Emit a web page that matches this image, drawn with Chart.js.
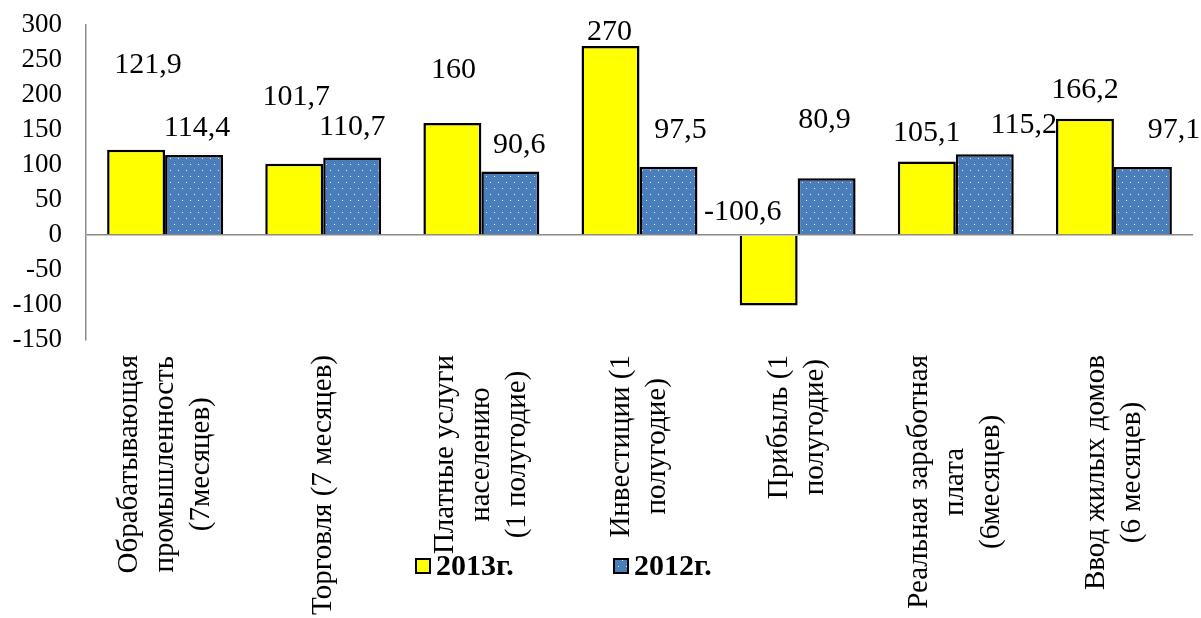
<!DOCTYPE html>
<html>
<head>
<meta charset="utf-8">
<script src="https://cdn.jsdelivr.net/npm/chart.js@4"></script>
<style>
  html, body { margin: 0; padding: 0; background: #ffffff; }
  #wrap { width: 1201px; height: 618px; }
</style>
</head>
<body>
<div id="wrap"><canvas id="c" width="1201" height="618"></canvas></div>
<script>
// ---- data ----
const categories = [
  ["Обрабатывающая", "промышленность", "(7месяцев)"],
  ["Торговля (7 месяцев)"],
  ["Платные услуги", "населению", "(1 полугодие)"],
  ["Инвестиции (1", "полугодие)"],
  ["Прибыль (1", "полугодие)"],
  ["Реальная заработная", "плата", "(6месяцев)"],
  ["Ввод жилых домов", "(6 месяцев)"]
];
const seriesNames = ["2013г.", "2012г."];
const values2013 = [121.9, 101.7, 160, 270, -100.6, 105.1, 166.2];
const values2012 = [114.4, 110.7, 90.6, 97.5, 80.9, 115.2, 97.1];
const yMin = -150;
const yMax = 300;
const yStep = 50;

// ---- styling / placement (not data) ----
const SERIF = "'Times New Roman', 'Liberation Serif', serif";
const AXIS_GREY = '#8a8a8a';
const YELLOW = '#ffff00';
const BLUE = '#4a7ebb';

// manual label placement as in the reference (value-axis anchor, px shift)
const labelPlacement = [
  { anchor: [243, 197, 236, 290, 33, 146, 207], shift: [12, 2, 1, -1, -26, 0, 0] },
  { anchor: [153, 154, 129, 150, 164, 157, 150], shift: [3, 0, 9, 12, -2, 39, 31] }
];

function makeDotPattern() {
  const t = document.createElement('canvas');
  t.width = 8; t.height = 12;
  const g = t.getContext('2d');
  g.fillStyle = BLUE;
  g.fillRect(0, 0, 8, 12);
  g.fillStyle = 'rgba(255,255,255,0.85)';
  g.fillRect(2, 2, 1, 1);
  g.fillRect(6, 8, 1, 1);
  const ctx = document.getElementById('c').getContext('2d');
  return ctx.createPattern(t, 'repeat');
}
const bluePattern = makeDotPattern();

function fmt(v) { return String(v).replace('.', ','); }

const valueLabelsPlugin = {
  id: 'valueLabels',
  afterDatasetsDraw(chart) {
    const ctx = chart.ctx;
    const y = chart.scales.y;
    ctx.save();
    ctx.font = '30px ' + SERIF;
    ctx.fillStyle = '#000';
    ctx.textAlign = 'center';
    ctx.textBaseline = 'middle';
    chart.data.datasets.forEach((ds, di) => {
      const meta = chart.getDatasetMeta(di);
      meta.data.forEach((bar, i) => {
        const p = labelPlacement[di];
        ctx.fillText(fmt(ds.data[i]), bar.x + p.shift[i], y.getPixelForValue(p.anchor[i]));
      });
    });
    ctx.restore();
  }
};

const categoryLabelsPlugin = {
  id: 'categoryLabels',
  afterDraw(chart) {
    const ctx = chart.ctx;
    const xs = chart.scales.x;
    const lh = 36;
    const top = 355;
    ctx.save();
    ctx.font = '29px ' + SERIF;
    ctx.fillStyle = '#000';
    ctx.textAlign = 'center';
    ctx.textBaseline = 'middle';
    chart.data.labels.forEach((lines, i) => {
      const cx = xs.getPixelForTick(i);
      const maxW = Math.max(...lines.map(l => ctx.measureText(l).width));
      const cy = top + maxW / 2;
      lines.forEach((line, j) => {
        const lx = cx + (j - (lines.length - 1) / 2) * lh;
        ctx.save();
        ctx.translate(lx, cy);
        ctx.rotate(-Math.PI / 2);
        ctx.fillText(line, 0, 0);
        ctx.restore();
      });
    });
    ctx.restore();
  }
};

const legendPlugin = {
  id: 'customLegend',
  afterDraw(chart) {
    const ctx = chart.ctx;
    const items = [{ x: 415 }, { x: 613 }];
    ctx.save();
    ctx.font = 'bold 30px ' + SERIF;
    ctx.textAlign = 'left';
    ctx.textBaseline = 'middle';
    chart.data.datasets.forEach((ds, di) => {
      const bx = items[di].x, by = 558, s = 16;
      ctx.fillStyle = ds.backgroundColor;
      ctx.fillRect(bx, by, s, s);
      ctx.lineWidth = 2;
      ctx.strokeStyle = '#000';
      ctx.strokeRect(bx + 1, by + 1, s - 2, s - 2);
      ctx.fillStyle = '#000';
      ctx.fillText(ds.label, bx + s + 5, by + s / 2 + 1);
    });
    ctx.restore();
  }
};

new Chart(document.getElementById('c'), {
  type: 'bar',
  data: {
    labels: categories,
    datasets: [
      { label: seriesNames[0], data: values2013, backgroundColor: YELLOW, borderColor: '#000', borderWidth: 2.5 },
      { label: seriesNames[1], data: values2012, backgroundColor: bluePattern, borderColor: '#000', borderWidth: 2.5 }
    ]
  },
  options: {
    responsive: false,
    animation: false,
    devicePixelRatio: 1,
    layout: { padding: { top: 25, right: 8, bottom: 278, left: 0 } },
    datasets: { bar: { categoryPercentage: 0.733, barPercentage: 1.0 } },
    plugins: { legend: { display: false }, tooltip: { enabled: false } },
    scales: {
      x: {
        ticks: { display: false },
        grid: { display: false },
        border: { display: false },
        afterFit(s) { s.height = 0; }
      },
      y: {
        min: yMin,
        max: yMax,
        ticks: {
          stepSize: yStep,
          autoSkip: false,
          padding: 24,
          color: '#000',
          font: { family: SERIF, size: 27 }
        },
        grid: {
          drawTicks: false,
          color: (c) => (c.tick && c.tick.value === 0 ? AXIS_GREY : 'rgba(0,0,0,0)'),
          lineWidth: 1.5
        },
        border: { display: true, color: AXIS_GREY, width: 1.5 },
        afterFit(s) { s.width = 86; s.paddingTop = 0; s.paddingBottom = 0; }
      }
    }
  },
  plugins: [valueLabelsPlugin, categoryLabelsPlugin, legendPlugin]
});
</script>
</body>
</html>
